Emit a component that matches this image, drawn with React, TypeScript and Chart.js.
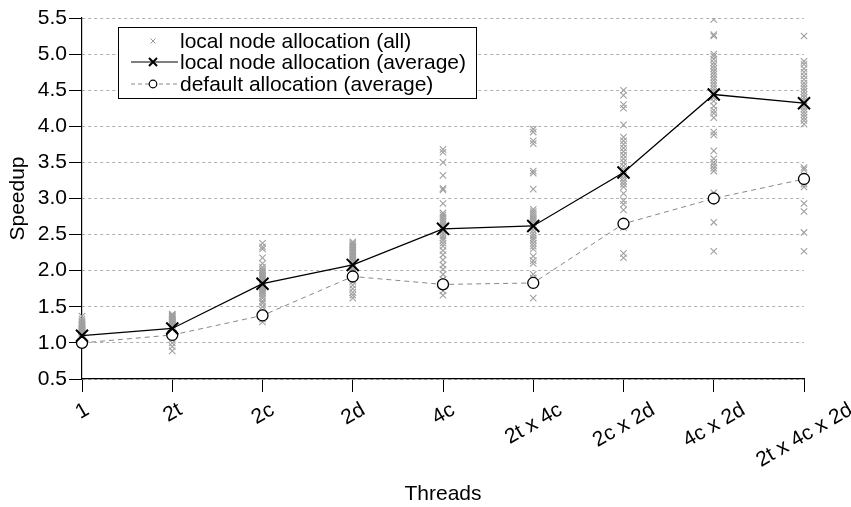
import React, { useEffect, useRef } from "react";
import { Chart, registerables } from "chart.js";

Chart.register(...registerables);

const categories = ["1", "2t", "2c", "2d", "4c", "2t x 4c", "2c x 2d", "4c x 2d", "2t x 4c x 2d"];

const localAvg = [1.1, 1.2, 1.82, 2.08, 2.58, 2.62, 3.36, 4.44, 4.32];
const defaultAvg = [1.0, 1.11, 1.38, 1.92, 1.81, 1.83, 2.65, 3.0, 3.27];

const allRuns1 = [1.37, 1.33, 1.3, 1.28, 1.26, 1.25, 1.24, 1.23, 1.22, 1.21, 1.2, 1.19, 1.18, 1.17, 1.16, 1.15, 1.14, 1.13, 1.12, 1.11, 1.1, 1.08, 1.06];
const allRuns2t = [1.4, 1.39, 1.38, 1.37, 1.36, 1.35, 1.34, 1.33, 1.32, 1.31, 1.3, 1.29, 1.28, 1.27, 1.26, 1.25, 1.24, 1.22, 1.2, 1.05, 1.0, 0.95, 0.89];
const allRuns2c = [2.38, 2.33, 2.3, 2.18, 2.1, 2.05, 2.02, 2.0, 1.98, 1.96, 1.94, 1.92, 1.9, 1.88, 1.86, 1.84, 1.82, 1.8, 1.78, 1.76, 1.74, 1.72, 1.7, 1.68, 1.65, 1.62, 1.58, 1.55, 1.5, 1.45, 1.33, 1.29];
const allRuns2d = [2.4, 2.38, 2.36, 2.34, 2.32, 2.3, 2.28, 2.26, 2.24, 2.22, 2.2, 2.18, 2.16, 2.14, 2.12, 2.1, 2.08, 2.05, 2.02, 2.0, 1.97, 1.94, 1.9, 1.85, 1.8, 1.75, 1.7, 1.66, 1.62];
const allRuns4c = [3.68, 3.64, 3.5, 3.32, 3.14, 3.12, 2.93, 2.8, 2.77, 2.74, 2.71, 2.68, 2.65, 2.62, 2.58, 2.55, 2.52, 2.48, 2.45, 2.42, 2.38, 2.34, 2.28, 2.22, 2.15, 2.08, 2.02, 1.95, 1.88, 1.72, 1.66];
const allRuns2t4c = [3.96, 3.92, 3.8, 3.76, 3.38, 3.35, 3.13, 2.85, 2.82, 2.79, 2.76, 2.73, 2.7, 2.67, 2.64, 2.6, 2.56, 2.52, 2.48, 2.45, 2.42, 2.38, 2.34, 2.3, 2.2, 2.14, 2.1, 1.95, 1.9, 1.62];
const allRuns2c2d = [4.5, 4.43, 4.3, 4.25, 4.02, 3.85, 3.8, 3.75, 3.7, 3.65, 3.6, 3.55, 3.5, 3.45, 3.4, 3.36, 3.32, 3.28, 3.24, 3.2, 3.16, 3.07, 2.97, 2.92, 2.84, 2.6, 2.24, 2.18];
const allRuns4c2d = [5.58, 5.55, 5.48, 5.27, 5.25, 5.0, 4.97, 4.93, 4.88, 4.84, 4.8, 4.76, 4.72, 4.68, 4.64, 4.6, 4.56, 4.52, 4.48, 4.44, 4.4, 4.35, 4.28, 4.22, 4.18, 4.12, 3.92, 3.88, 3.66, 3.55, 3.5, 3.46, 3.42, 3.38, 3.08, 2.67, 2.27];
const allRuns2t4c2d = [5.56, 5.25, 4.9, 4.86, 4.8, 4.75, 4.7, 4.65, 4.6, 4.56, 4.52, 4.48, 4.44, 4.4, 4.36, 4.32, 4.28, 4.24, 4.2, 4.16, 4.12, 4.08, 4.03, 3.43, 3.4, 3.2, 3.16, 2.93, 2.82, 2.53, 2.27];

const allRuns = [allRuns1, allRuns2t, allRuns2c, allRuns2d, allRuns4c, allRuns2t4c, allRuns2c2d, allRuns4c2d, allRuns2t4c2d];

const yTicks = [0.5, 1.0, 1.5, 2.0, 2.5, 3.0, 3.5, 4.0, 4.5, 5.0, 5.5];

const FONT = "'Liberation Sans', Arial, Helvetica, sans-serif";
const FS = 21;

const xLabelPlugin = {
  id: "rotXLabels",
  afterDraw(chart: any) {
    const ctx = chart.ctx as CanvasRenderingContext2D;
    const xs = chart.scales.x;
    const labels: string[] = chart.data.labels;
    const ang = (30 * Math.PI) / 180;
    const h = FS * 0.72;
    ctx.save();
    ctx.font = FS + "px " + FONT;
    ctx.fillStyle = "#000";
    ctx.textAlign = "center";
    ctx.textBaseline = "middle";
    labels.forEach((lab, i) => {
      const x = xs.getPixelForTick(i);
      const L = ctx.measureText(lab).width;
      const cy = 401 + (L / 2) * Math.sin(ang) + (h / 2) * Math.cos(ang);
      ctx.save();
      ctx.translate(x, cy);
      ctx.rotate(-ang);
      ctx.fillText(lab, 0, 1);
      ctx.restore();
    });
    ctx.restore();
  },
};

const legendPlugin = {
  id: "boxLegend",
  afterDraw(chart: any) {
    const ctx = chart.ctx as CanvasRenderingContext2D;
    const x0 = 118, y0 = 27, w = 358, h = 71;
    ctx.save();
    ctx.fillStyle = "#ffffff";
    ctx.fillRect(x0, y0, w, h);
    ctx.strokeStyle = "#000";
    ctx.lineWidth = 1;
    ctx.strokeRect(x0 + 0.5, y0 + 0.5, w, h);
    const rows = chart.data.datasets;
    const rowY = [41, 62, 84];
    const lx1 = 131, lx2 = 178, mx = 153;
    ctx.font = FS + "px " + FONT;
    ctx.textBaseline = "middle";
    ctx.textAlign = "left";
    rows.forEach((ds: any, i: number) => {
      const y = rowY[i];
      if (i === 0) {
        ctx.strokeStyle = "#999";
        ctx.lineWidth = 1;
        ctx.beginPath();
        ctx.moveTo(mx - 2.5, y - 2.5); ctx.lineTo(mx + 2.5, y + 2.5);
        ctx.moveTo(mx + 2.5, y - 2.5); ctx.lineTo(mx - 2.5, y + 2.5);
        ctx.stroke();
      } else if (i === 1) {
        ctx.strokeStyle = "#000";
        ctx.lineWidth = 1.2;
        ctx.beginPath();
        ctx.moveTo(lx1, y); ctx.lineTo(lx2, y);
        ctx.stroke();
        ctx.lineWidth = 2;
        ctx.beginPath();
        ctx.moveTo(mx - 4, y - 4); ctx.lineTo(mx + 4, y + 4);
        ctx.moveTo(mx + 4, y - 4); ctx.lineTo(mx - 4, y + 4);
        ctx.stroke();
      } else {
        ctx.strokeStyle = "#888";
        ctx.lineWidth = 1;
        ctx.setLineDash([4, 3]);
        ctx.beginPath();
        ctx.moveTo(lx1, y); ctx.lineTo(lx2, y);
        ctx.stroke();
        ctx.setLineDash([]);
        ctx.fillStyle = "#fff";
        ctx.strokeStyle = "#000";
        ctx.lineWidth = 1.2;
        ctx.beginPath();
        ctx.arc(mx, y, 3.8, 0, Math.PI * 2);
        ctx.fill();
        ctx.stroke();
      }
      ctx.fillStyle = "#000";
      ctx.fillText(ds.label, 180, y + 1);
    });
    ctx.restore();
  },
};

export default function App() {
  const ref = useRef<HTMLCanvasElement | null>(null);
  useEffect(() => {
    if (!ref.current) return;
    const scatterData: { x: string; y: number }[] = [];
    allRuns.forEach((vals, i) => vals.forEach((v) => scatterData.push({ x: categories[i], y: v })));
    const chart = new Chart(ref.current, {
      type: "line",
      data: {
        labels: categories,
        datasets: [
          {
            label: "local node allocation (all)",
            data: scatterData as any,
            showLine: false,
            pointStyle: "crossRot",
            pointRadius: 4.5,
            pointBorderWidth: 1.1,
            borderColor: "#a0a0a0",
            backgroundColor: "#a0a0a0",
            order: 2,
          },
          {
            label: "local node allocation (average)",
            data: localAvg,
            borderColor: "#000",
            borderWidth: 1.3,
            pointStyle: "crossRot",
            pointRadius: 8.5,
            pointBorderWidth: 2,
            pointBorderColor: "#000",
            tension: 0,
            order: 0,
          },
          {
            label: "default allocation (average)",
            data: defaultAvg,
            borderColor: "#888",
            borderWidth: 1,
            borderDash: [5, 4],
            pointStyle: "circle",
            pointRadius: 5.5,
            pointBorderWidth: 1.3,
            pointBorderColor: "#000",
            pointBackgroundColor: "#fff",
            tension: 0,
            order: 1,
          },
        ],
      },
      options: {
        animation: false,
        responsive: false,
        layout: { padding: { top: 18, right: 47, left: 0, bottom: 0 } },
        plugins: { legend: { display: false }, tooltip: { enabled: false } },
        scales: {
          x: {
            type: "category",
            offset: false,
            grid: {
              drawOnChartArea: false,
              drawTicks: true,
              tickLength: 13,
              tickColor: "#000",
              color: "#000",
            },
            border: { display: true, color: "#000", width: 1.2 },
            ticks: { display: false, autoSkip: false },
            title: {
              display: true,
              text: "Threads",
              color: "#000",
              font: { family: FONT, size: FS },
              padding: { top: 0, bottom: 0 },
            },
            afterFit: (s: any) => { s.height = 128; },
          },
          y: {
            type: "linear",
            min: 0.5,
            max: 5.5,
            afterBuildTicks: (s: any) => { s.ticks = yTicks.map((v) => ({ value: v })); },
            grid: {
              color: "#b0b0b0",
              lineWidth: 1,
              drawTicks: true,
              tickLength: 13,
              tickColor: "#000",
            },
            border: { display: true, color: "#000", width: 1.2, dash: [3, 3] },
            ticks: {
              color: "#000",
              font: { family: FONT, size: FS },
              padding: 2,
              callback: (v: any) => Number(v).toFixed(1),
            },
            title: {
              display: true,
              text: "Speedup",
              color: "#000",
              font: { family: FONT, size: FS },
              padding: { top: 6, bottom: 0 },
            },
            afterFit: (s: any) => { s.width = 82; },
          },
        },
      },
      plugins: [xLabelPlugin, legendPlugin],
    });
    return () => chart.destroy();
  }, []);
  return (
    <div style={{ position: "fixed", left: 0, top: 0, width: 851, height: 507, background: "#fff" }}>
      <canvas ref={ref} width={851} height={507} style={{ width: 851, height: 507, display: "block" }} />
    </div>
  );
}
